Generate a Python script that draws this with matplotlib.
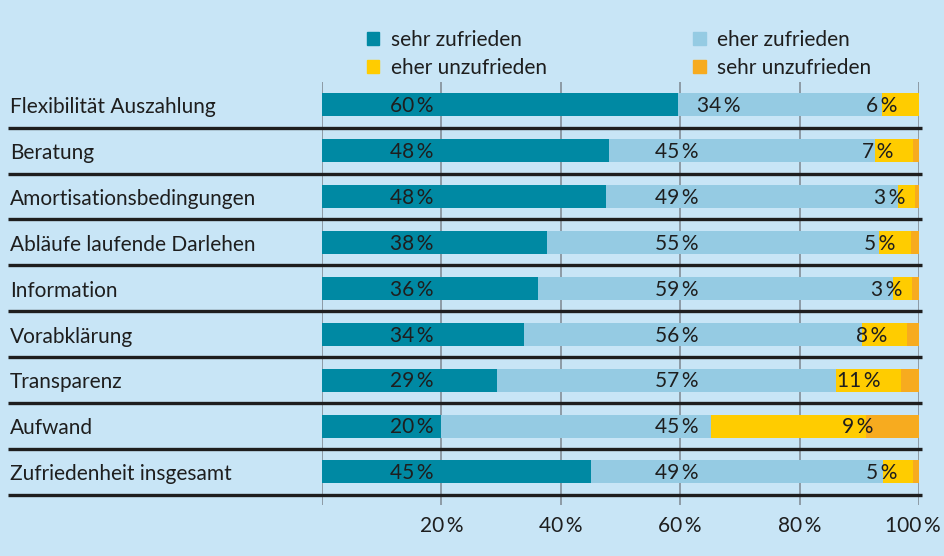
import matplotlib
matplotlib.use("Agg")
import matplotlib.pyplot as plt
from matplotlib.patches import Patch
from matplotlib.transforms import ScaledTranslation

plt.rcParams['font.family'] = ['Lato', 'DejaVu Sans']

# Data (bar widths in %, printed labels separately)
categories = ["Flexibilität Auszahlung", "Beratung", "Amortisationsbedingungen",
              "Abläufe laufende Darlehen", "Information", "Vorabklärung",
              "Transparenz", "Aufwand", "Zufriedenheit insgesamt"]
sehr_zufrieden = [59.6, 48.1, 47.5, 37.7, 36.1, 33.8, 29.3, 19.9, 45.0]
eher_zufrieden = [34.2, 44.5, 49.0, 55.6, 59.5, 56.6, 56.8, 45.3, 49.0]
eher_unzufrieden = [6.2, 6.4, 2.8, 5.3, 3.3, 7.6, 10.9, 26.0, 5.0]
sehr_unzufrieden = [0.0, 1.0, 0.7, 1.4, 1.1, 2.0, 3.0, 8.8, 1.0]

label_sehr = [60, 48, 48, 38, 36, 34, 29, 20, 45]
label_eher = [34, 45, 49, 55, 59, 56, 57, 45, 49]
label_unzuf = [6, 7, 3, 5, 3, 8, 11, 9, 5]

series_names = ["sehr zufrieden", "eher zufrieden", "eher unzufrieden", "sehr unzufrieden"]
tick_values = [20, 40, 60, 80, 100]

bg = '#c8e5f6'
colors = ['#0089a3', '#95cbe3', '#ffcc00', '#f7ab1f']
txt = '#1e1e1e'
fs = 15

fig = plt.figure(figsize=(9.44, 5.56), dpi=100, facecolor=bg)
ax = fig.add_axes([322 / 944, 1 - 505 / 556, 597 / 944, 423.3 / 556])
ax.set_facecolor(bg)
ax.set_xlim(0, 100)
ax.set_ylim(8.72, -0.5)

# vertical grid
for gx in [0] + tick_values:
    ax.axvline(gx, color='#7d8790', lw=1.1, zorder=1)

rows = list(range(len(categories)))
series = [sehr_zufrieden, eher_zufrieden, eher_unzufrieden, sehr_unzufrieden]
left = [0.0] * len(categories)
for vals, col, name in zip(series, colors, series_names):
    ax.barh(rows, vals, left=left, height=0.5, color=col, zorder=2, label=name)
    left = [l + v for l, v in zip(left, vals)]

# row separators
for r in rows:
    ax.plot([-52.6, 100.5], [r + 0.5, r + 0.5], color='#1e1e1e', lw=2.4,
            clip_on=False, zorder=3, solid_capstyle='butt')

# value labels
for r in rows:
    ax.text(18.7, r + 0.03, f"{label_sehr[r]}\u2009%", ha='right', va='center',
            fontsize=fs, color=txt, zorder=4)
    x2 = max(63.0, sehr_zufrieden[r] + 10.5)
    ax.text(x2, r + 0.03, f"{label_eher[r]}\u2009%", ha='right', va='center',
            fontsize=fs, color=txt, zorder=4)
    light_end = sehr_zufrieden[r] + eher_zufrieden[r]
    x3 = (max(light_end, 86) + 100) / 2 - 3.2
    ax.text(x3, r + 0.03, f"{label_unzuf[r]}\u2009%", ha='center', va='center',
            fontsize=fs, color=txt, zorder=4)

# category labels
for r, cat in enumerate(categories):
    ax.text(-52.3, r + 0.05, cat, ha='left', va='center', fontsize=fs, color=txt,
            clip_on=False)

ax.set_xticks(tick_values)
ax.set_xticklabels([f"{t}\u2009%" for t in tick_values], fontsize=fs, color=txt)
ax.tick_params(axis='x', length=0, pad=8)
last = ax.get_xticklabels()[-1]
last.set_transform(last.get_transform() + ScaledTranslation(-0.06, 0, fig.dpi_scale_trans))
ax.set_yticks([])
for s in ax.spines.values():
    s.set_visible(False)

handles = [Patch(color=colors[0]), Patch(color=colors[2]),
           Patch(color=colors[1]), Patch(color=colors[3])]
labels = [series_names[0], series_names[2], series_names[1], series_names[3]]
fig.legend(handles, labels, loc='upper left', bbox_to_anchor=(367 / 944, 1 - 30 / 556),
           ncol=2, frameon=False, fontsize=fs, handlelength=0.58, handleheight=0.58,
           handletextpad=0.55, columnspacing=7.05, labelspacing=0.36, labelcolor=txt,
           borderpad=0, borderaxespad=0)

fig.savefig("out.png", dpi=100, facecolor=bg)
